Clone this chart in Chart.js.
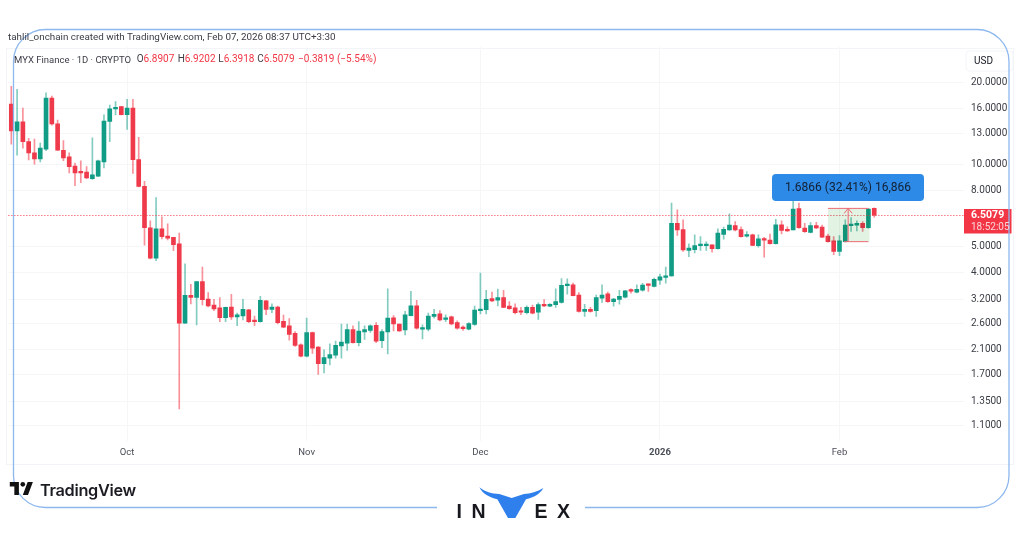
<!DOCTYPE html>
<html><head><meta charset="utf-8">
<script src="https://cdn.jsdelivr.net/npm/chart.js@4"></script>
<style>
html,body{margin:0;padding:0;background:#fff;width:1024px;height:538px;overflow:hidden}
#wrap{position:relative;width:1024px;height:538px;font-family:Roboto,"Liberation Sans",Arial,sans-serif}
canvas{position:absolute;left:0;top:0}
.t{position:absolute;white-space:pre;line-height:1}
.l{top:54px;font-size:10px;color:#3a3d45}
.r{color:#f23645}
.inv{position:absolute;font:700 19.5px "Liberation Sans",sans-serif;color:#16181d;line-height:1;top:502px}
</style></head><body>
<div id="wrap">
<canvas id="c" width="1024" height="538"></canvas>
<div class="t" style="left:8px;top:32px;font-size:9.85px;color:#3a3d45">tahlil_onchain created with TradingView.com, Feb 07, 2026 08:37 UTC+3:30</div>
<div class="t l" style="left:14px;font-size:9.5px;top:54.5px">MYX Finance · 1D · CRYPTO</div>
<div class="t l" style="left:136.7px">O<span class="r">6.8907</span></div>
<div class="t l" style="left:177.7px">H<span class="r">6.9202</span></div>
<div class="t l" style="left:218.3px">L<span class="r">6.3918</span></div>
<div class="t l" style="left:257.3px">C<span class="r">6.5079</span></div>
<div class="t l r" style="left:298px">−0.3819 (−5.54%)</div>
<div class="t" style="left:974px;top:56px;font-size:10px;color:#131722">USD</div>
<div class="t" style="left:971px;top:210px;font-size:10.5px;color:#fff;font-weight:700">6.5079</div>
<div class="t" style="left:971px;top:222px;font-size:10px;color:#fbd5d9">18:52:05</div>
<svg style="position:absolute;left:9px;top:482px" width="25" height="13" viewBox="0 0 36 20"><path fill="#111" d="M14 20H7V7H0V0h14v20zM28 20h-8l7.5-20h8L28 20z"/><circle fill="#111" cx="20" cy="3.6" r="3.6"/></svg>
<div class="t" style="left:40px;top:480px;font:600 16.3px Inter,sans-serif;color:#1a1c22;letter-spacing:-.3px">TradingView</div>
<svg style="position:absolute;left:440px;top:478px" width="150" height="50" viewBox="0 0 450 150"><path fill="#2f80ed" d="M118 28C135 42 155 47 178 48L215 60L252 48C272 47 292 42 310 30C300 48 282 58 258 64L226 120H204L172 64C148 58 128 48 118 28Z"/></svg>
<div class="inv" style="left:456.5px">I</div>
<div class="inv" style="left:471.5px">N</div>
<div class="inv" style="left:534.5px">E</div>
<div class="inv" style="left:557px">X</div>
</div>
<script>
const firstDay = Date.UTC(2025, 8, 11);
const slotCount = 165;
const categories = [];
for (let i = 0; i < slotCount; i++) categories.push(new Date(firstDay + i * 864e5).toISOString().slice(0, 10));
const monthTicks = {'2025-10-01':'Oct','2025-11-01':'Nov','2025-12-01':'Dec','2026-01-01':'2026','2026-02-01':'Feb'};
const priceTicks = [20,16,13,10,8,5,4,3.2,2.6,2.1,1.7,1.35,1.1];

const opens = [16.6,13.25,14.3,12.1,11.0,10.45,11.35,17.45,14.05,11.25,10.65,9.85,9.4,9.35,8.85,9.05,10.2,14.35,15.95,16.25,15.2,16.05,10.4,8.3,5.85,4.53,5.8,5.46,5.4,5.11,
2.62,3.31,3.25,3.72,3.21,3.05,2.98,2.74,3.0,2.76,2.78,2.93,2.67,2.65,3.16,2.94,3.0,2.66,2.56,2.4,2.18,1.98,2.42,2.14,1.86,1.95,2.0,2.16,2.21,2.48,
2.22,2.43,2.46,2.57,2.26,2.43,2.74,2.6,2.47,2.79,3.03,2.49,2.49,2.77,2.83,2.7,2.76,2.63,2.52,2.49,2.59,2.91,2.93,3.22,3.18,3.25,3.02,2.98,2.89,2.86,
2.99,2.87,3.05,3.02,3.06,3.12,3.59,3.62,3.32,2.89,2.94,2.91,3.23,3.35,3.14,3.2,3.26,3.45,3.4,3.46,3.62,3.57,3.76,3.85,3.9,6.08,5.76,4.83,4.86,5.03,
5.03,5.07,4.91,5.53,5.75,5.96,5.76,5.45,5.51,5.03,5.31,5.27,5.12,6.0,5.78,5.75,6.88,5.84,5.63,5.96,5.89,5.45,5.24,4.79,5.2,5.96,5.98,6.08,5.85,6.8907];
const highs = [19.3,18.8,16.05,12.45,12.35,11.95,18.25,17.75,14.5,12.2,11.0,10.1,10.3,9.8,12.5,10.35,15.15,16.45,16.95,16.3,17.3,17.3,12.55,8.65,6.2,7.55,6.42,6.05,5.4,5.6,
4.32,3.63,3.72,4.2,3.39,3.2,3.25,3.0,3.34,2.85,3.2,2.94,2.78,3.28,3.17,3.08,3.02,2.8,2.72,2.44,2.2,2.73,2.43,2.15,2.09,2.2,2.25,2.6,2.6,2.56,
2.65,2.56,2.58,2.63,2.48,3.5,2.79,2.6,2.89,3.42,3.17,2.58,2.85,2.94,2.91,2.81,2.78,2.67,2.56,2.63,3.02,3.99,3.45,3.4,3.49,3.45,3.14,3.08,2.99,3.03,
3.05,3.11,3.19,3.09,3.5,3.81,3.8,3.67,3.39,3.07,2.99,3.32,3.62,3.4,3.23,3.45,3.45,3.5,3.62,3.66,3.64,3.83,3.96,4.2,7.2,6.8,6.25,5.11,5.51,5.43,
5.2,5.07,5.8,5.88,6.58,6.16,5.9,5.67,5.55,5.51,5.4,5.55,6.28,6.2,5.9,7.4,7.2,6.08,6.11,6.13,5.99,5.55,5.43,5.48,6.25,6.37,6.2,6.16,6.88,6.9202];
const lows = [11.85,10.8,11.45,10.36,10.0,10.2,11.2,13.9,11.2,10.3,9.3,8.35,8.55,8.85,8.8,9.0,9.7,12.1,15.15,15.15,13.4,9.25,8.25,5.05,4.5,4.43,5.33,5.28,4.82,1.27,
2.61,3.08,2.58,3.05,3.0,2.91,2.65,2.65,2.7,2.56,2.69,2.63,2.56,2.64,2.81,2.86,2.6,2.52,2.27,2.15,1.97,1.97,2.03,1.7,1.72,1.84,1.95,1.95,2.08,2.21,
2.16,2.28,2.42,2.22,2.13,2.02,2.45,2.44,2.37,2.78,2.49,2.29,2.45,2.73,2.67,2.65,2.58,2.49,2.46,2.47,2.57,2.83,2.83,3.14,3.03,2.98,2.94,2.83,2.81,2.83,
2.83,2.7,3.01,3.01,2.99,3.1,3.34,3.29,2.87,2.77,2.87,2.77,3.12,3.12,3.02,3.07,3.24,3.37,3.38,3.43,3.42,3.55,3.63,3.67,3.89,5.48,4.79,4.59,4.73,4.83,
4.83,4.76,4.89,5.31,5.72,5.7,5.4,5.4,5.03,4.97,4.57,5.1,5.1,5.55,5.67,5.74,5.82,5.63,5.6,5.81,5.38,5.18,4.66,4.62,5.18,5.67,5.7,5.67,5.82,6.3918];
const closes = [13.25,14.3,12.1,11.0,10.45,11.45,17.45,14.05,11.25,10.55,9.8,9.3,9.3,8.9,9.15,10.3,14.4,15.95,16.15,15.2,16.05,10.4,8.3,5.85,4.53,5.8,5.43,5.36,5.07,2.62,
3.31,3.25,3.72,3.19,3.03,2.95,2.74,2.99,2.76,2.81,2.94,2.65,2.65,3.17,2.94,3.0,2.63,2.53,2.38,2.17,1.98,2.42,2.12,1.86,1.96,2.01,2.17,2.23,2.48,2.22,
2.45,2.48,2.56,2.25,2.44,2.73,2.6,2.45,2.81,3.03,2.51,2.52,2.78,2.82,2.69,2.74,2.6,2.51,2.5,2.61,2.92,2.94,3.2,3.16,3.25,2.99,2.96,2.86,2.87,2.99,
2.85,3.06,3.03,3.07,3.14,3.6,3.62,3.3,2.89,2.94,2.89,3.25,3.32,3.14,3.21,3.28,3.44,3.43,3.48,3.61,3.6,3.79,3.87,3.9,6.08,5.75,4.85,4.93,5.03,5.07,
5.09,4.91,5.6,5.78,5.98,5.75,5.43,5.52,5.04,5.33,5.27,5.12,6.0,5.72,5.7,6.85,5.85,5.66,5.96,5.84,5.41,5.2,4.79,5.24,5.99,6.03,6.08,5.85,6.85,6.5079];

const lastClose = 6.5079;
const measureFrom = 5.2041, measureTo = 6.8907, measureStart = 141, measureEnd = 148, measureMid = 144.5;
const measureText = '1.6866 (32.41%) 16,866';

const UP = '#119c86', DOWN = '#ef3a4b';
const UPW = 'rgba(8,153,129,.5)', DOWNW = 'rgba(242,54,69,.55)';
const isUp = opens.map((o, i) => closes[i] >= o);

const overlay = {
  id: 'overlay',
  beforeDraw(ch) {
    const c = ch.ctx;
    c.save();
    c.strokeStyle = '#f3f4f7'; c.lineWidth = 1;
    c.strokeRect(6.5, 48.5, 1007, 416);
    c.restore();
  },
  afterDatasetsDraw(ch) {
    const {ctx: c, scales: {x, y}, chartArea: a} = ch;
    c.save();
    // last price line
    const py = Math.round(y.getPixelForValue(lastClose)) + .5;
    c.strokeStyle = '#f23645'; c.lineWidth = 1; c.setLineDash([1, 2]);
    c.beginPath(); c.moveTo(a.left, py); c.lineTo(a.right, py); c.stroke();
    c.setLineDash([]);
    // measure tool
    const x0 = x.getPixelForValue(measureStart), x1 = x.getPixelForValue(measureEnd);
    const yT = y.getPixelForValue(measureTo), yB = y.getPixelForValue(measureFrom);
    const xm = x.getPixelForValue(measureMid);
    c.globalCompositeOperation = 'multiply';
    c.fillStyle = 'rgba(76,175,80,.16)';
    c.fillRect(x0, yT, x1 - x0 + 1, yB - yT);
    c.globalCompositeOperation = 'source-over';
    c.strokeStyle = '#ec6a73'; c.lineWidth = 1;
    c.beginPath();
    c.moveTo(x0, yT); c.lineTo(x1, yT);
    c.moveTo(x0 + 16, yB); c.lineTo(x1, yB);
    c.moveTo(xm, yB); c.lineTo(xm, yT);
    c.moveTo(xm - 4, yT + 5); c.lineTo(xm, yT); c.lineTo(xm + 4, yT + 5);
    c.stroke();
    // price tag and measure label
    c.fillStyle = '#f23645';
    c.fillRect(964, py - 6.5, 47.5, 24.5);
    c.fillStyle = '#2d8ae6';
    c.beginPath(); c.roundRect(772, 174, 152, 27, 4); c.fill();
    c.fillStyle = '#131f33';
    c.font = '12px Roboto,sans-serif';
    c.textAlign = 'center'; c.textBaseline = 'middle';
    c.fillText(measureText, 848, 188);
    c.restore();
  },
  afterDraw(ch) {
    const c = ch.ctx;
    c.save();
    // USD box
    c.fillStyle = '#fff'; c.strokeStyle = '#f3f4f7';
    c.beginPath(); c.roundRect(966, 51, 47, 20, 3); c.fill(); c.stroke();
    // frame
    c.strokeStyle = '#8db8ee'; c.lineWidth = 1.3;
    c.beginPath();
    c.moveTo(437, 507.5); c.lineTo(45, 507.5);
    c.arcTo(13.5, 507.5, 13.5, 476, 32);
    c.lineTo(13.5, 62);
    c.arcTo(13.5, 29.5, 46, 29.5, 32);
    c.lineTo(976, 29.5);
    c.arcTo(1009, 29.5, 1009, 62, 32);
    c.lineTo(1009, 476);
    c.arcTo(1009, 507.5, 977, 507.5, 32);
    c.lineTo(585, 507.5);
    c.stroke();
    c.restore();
  }
};

new Chart(document.getElementById('c'), {
  type: 'bar',
  plugins: [overlay],
  data: {
    labels: categories,
    datasets: [
      { label: 'Body', order: 1, grouped: false, barThickness: 4, minBarLength: 1.5,
        data: opens.map((o, i) => [Math.min(o, closes[i]), Math.max(o, closes[i])]),
        backgroundColor: isUp.map(u => u ? UP : DOWN) },
      { label: 'Wick', order: 2, grouped: false, barThickness: 1,
        data: lows.map((l, i) => [l, highs[i]]),
        backgroundColor: isUp.map(u => u ? UPW : DOWNW) }
    ]
  },
  options: {
    responsive: false, animation: false, devicePixelRatio: 1,
    layout: { padding: { left: 8.4, top: 47, right: 0, bottom: 0 } },
    plugins: { legend: { display: false }, tooltip: { enabled: false }, title: { display: false } },
    scales: {
      x: {
        type: 'category', offset: true,
        grid: { offset: false, color: '#f5f6f8', drawTicks: false, drawOnChartArea: true },
        border: { display: false },
        afterBuildTicks: s => { s.ticks = s.ticks.filter(t => monthTicks[categories[t.value]]); },
        afterFit: s => { s.height = 97; },
        ticks: { autoSkip: false, maxRotation: 0, padding: 6, color: '#4a4e57',
          font: ctx => ({ size: 9.5, family: 'Roboto,sans-serif', weight: ctx.tick && ctx.tick.label === '2026' ? '700' : '400' }),
          callback(v) { return monthTicks[categories[v]] || ''; } }
      },
      y: {
        type: 'logarithmic', position: 'right', min: 0.969, max: 26.87,
        grid: { color: '#f5f6f8', drawTicks: false },
        border: { display: false },
        afterBuildTicks: s => { s.ticks = priceTicks.map(v => ({ value: v })); },
        afterFit: s => { s.width = 60; },
        ticks: { autoSkip: false, padding: 7, color: '#3a3d45', font: { size: 10, family: 'Roboto,sans-serif' },
          callback: v => Number(v).toFixed(4) }
      }
    }
  }
});
</script>
</body></html>
